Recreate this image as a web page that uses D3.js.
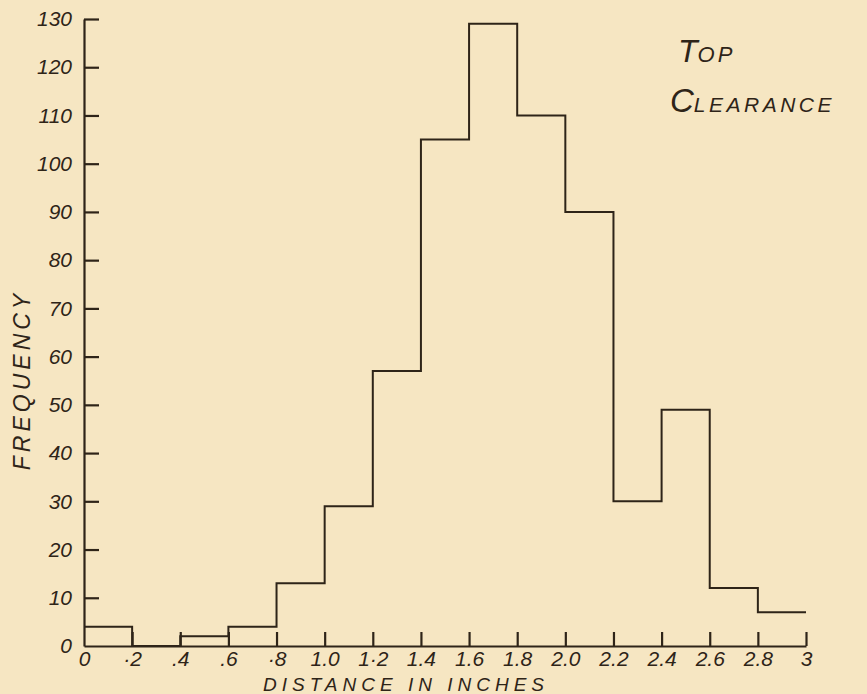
<!DOCTYPE html>
<meta charset="utf-8">
<style>
body { margin: 0; background: #f6e6c2; }
svg { display: block; background: #f6e6c2; }
.axis text {
    font: italic 21px "Liberation Sans", sans-serif;
    fill: #2e2418;
}
.axis line,
.axis path {
    fill: none;
    stroke: #2e2418;
    stroke-width: 2.2px;
}
.step-line {
    fill: none;
    stroke: #2e2418;
    stroke-width: 2px;
}
.label {
    font-family: "Liberation Sans", sans-serif;
    font-style: italic;
    fill: #2e2418;
}
</style>
<body>
<div id="hist"></div>
<script src="https://d3js.org/d3.v7.min.js"></script>
<script>
// bin edges (inches) and frequencies
var binStart = [0, 0.2, 0.4, 0.6, 0.8, 1.0, 1.2, 1.4, 1.6, 1.8, 2.0, 2.2, 2.4, 2.6, 2.8];
var binEnd   = [0.2, 0.4, 0.6, 0.8, 1.0, 1.2, 1.4, 1.6, 1.8, 2.0, 2.2, 2.4, 2.6, 2.8, 3.0];
var freq     = [4, 0, 2, 4, 13, 29, 57, 105, 129, 110, 90, 30, 49, 12, 7];
var xTicks = [0, 0.2, 0.4, 0.6, 0.8, 1.0, 1.2, 1.4, 1.6, 1.8, 2.0, 2.2, 2.4, 2.6, 2.8, 3.0];
var xTickLabels = ["0", "·2", ".4", ".6", "·8", "1.0", "1·2", "1.4", "1.6", "1.8", "2.0", "2.2", "2.4", "2.6", "2.8", "3"];
var yTicks = [0, 10, 20, 30, 40, 50, 60, 70, 80, 90, 100, 110, 120, 130];

var width = 867, height = 694;
var svg = d3.select("#hist").append("svg")
    .attr("width", width)
    .attr("height", height);

var x = d3.scaleLinear().domain([0, 3]).range([84, 806]);
var y = d3.scaleLinear().domain([0, 130]).range([646, 19]);

// step outline of the histogram
var pts = [];
binStart.forEach(function(s, i) {
    pts.push([binStart[i], freq[i]]);
    pts.push([binEnd[i], freq[i]]);
});
var line = d3.line()
    .x(function(d) { return x(d[0]); })
    .y(function(d) { return y(d[1]); });
svg.append("path")
    .attr("class", "step-line")
    .attr("d", line(pts));

svg.append("g")
    .attr("class", "axis axis--x")
    .attr("transform", "translate(0," + y(0) + ")")
    .call(d3.axisBottom(x)
        .tickValues(xTicks)
        .tickSizeInner(-14)
        .tickSizeOuter(0)
        .tickPadding(5)
        .tickFormat(function(d, i) { return xTickLabels[i]; }));

svg.append("g")
    .attr("class", "axis axis--y")
    .attr("transform", "translate(" + x(0) + ",0)")
    .call(d3.axisLeft(y)
        .tickValues(yTicks)
        .tickSizeInner(-15)
        .tickSizeOuter(0)
        .tickPadding(12));

// no tick marks at the origin, the axis lines are there already
svg.selectAll(".axis--x .tick").filter(function(d) { return d === 0; }).select("line").remove();
svg.selectAll(".axis--y .tick").filter(function(d) { return d === 0; }).select("line").remove();

svg.append("text")
    .attr("class", "label")
    .attr("x", 406)
    .attr("y", 691)
    .attr("text-anchor", "middle")
    .style("font-size", "19px")
    .style("letter-spacing", "5px")
    .text("DISTANCE IN INCHES");

svg.append("text")
    .attr("class", "label")
    .attr("transform", "translate(30,380) rotate(-90)")
    .attr("text-anchor", "middle")
    .style("font-size", "23px")
    .style("letter-spacing", "4px")
    .text("FREQUENCY");

var t1 = svg.append("text").attr("class", "label").attr("x", 678).attr("y", 62);
t1.append("tspan").style("font-size", "32px").text("T");
t1.append("tspan").style("font-size", "22px").style("letter-spacing", "3px").text("OP");

var t2 = svg.append("text").attr("class", "label").attr("x", 670).attr("y", 112);
t2.append("tspan").style("font-size", "33px").text("C");
t2.append("tspan").style("font-size", "21px").style("letter-spacing", "3.5px").text("LEARANCE");
</script>
